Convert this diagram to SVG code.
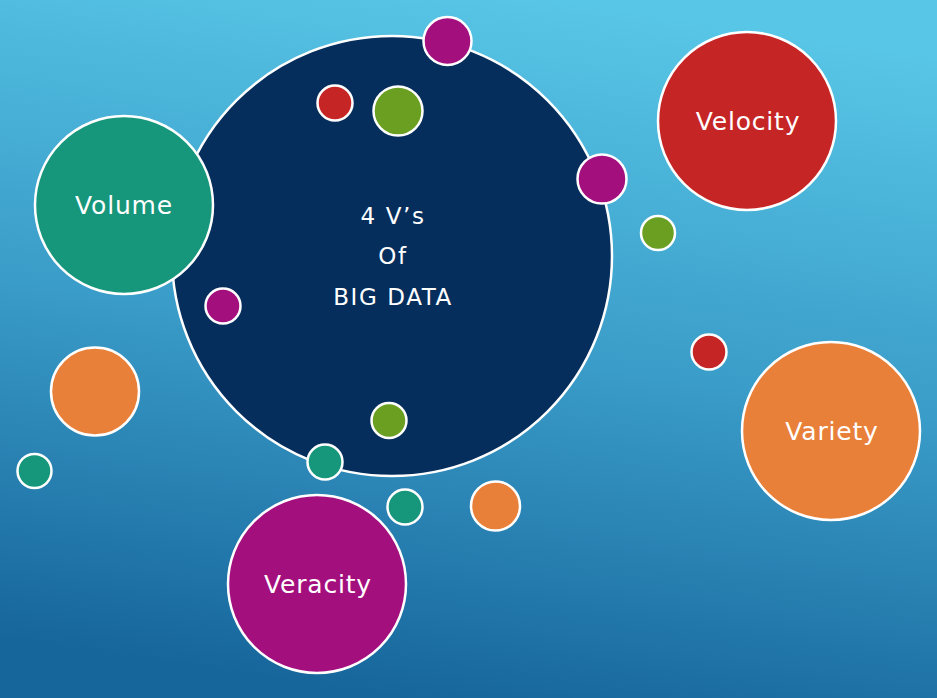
<svg xmlns="http://www.w3.org/2000/svg" width="937" height="698" viewBox="0 0 937 698">
<defs>
<linearGradient id="bg" x1="0.6" y1="0" x2="0.4" y2="1">
<stop offset="0" stop-color="#58c6e6"/>
<stop offset="0.5" stop-color="#3a9cc8"/>
<stop offset="1" stop-color="#16659b"/>
</linearGradient>
<style>
circle{stroke:#fff;stroke-width:2.5}
.navy{fill:#052e5d}.teal{fill:#16967a}.red{fill:#c62525}.green{fill:#6b9f21}.mag{fill:#a40f7e}.orange{fill:#e8803a}
text{fill:#fff;font-family:"DejaVu Sans","Liberation Sans",sans-serif;text-anchor:middle;dominant-baseline:central}
.big{font-size:25px;letter-spacing:0.8px}.mid{font-size:23px;letter-spacing:1.6px}
</style>
</defs>
<rect width="937" height="698" fill="url(#bg)"/>
<g id="core"><circle class="navy" cx="392" cy="256" r="220"/>
<text class="mid" x="393" y="216">4 V’s</text>
<text class="mid" x="393" y="256">Of</text>
<text class="mid" x="393" y="297">BIG DATA</text></g>
<g id="volume"><circle class="teal" cx="124" cy="205" r="89"/><text class="big" x="124" y="205">Volume</text></g>
<g id="velocity"><circle class="red" cx="747" cy="121" r="89"/><text class="big" x="748" y="121">Velocity</text></g>
<g id="variety"><circle class="orange" cx="831" cy="431" r="89"/><text class="big" x="832" y="431">Variety</text></g>
<g id="veracity"><circle class="mag" cx="317" cy="584" r="89"/><text class="big" x="318" y="584">Veracity</text></g>
<g id="dots">
<circle class="mag" cx="447.5" cy="41" r="24"/>
<circle class="red" cx="335" cy="103" r="17.5"/>
<circle class="green" cx="398" cy="111" r="24.5"/>
<circle class="mag" cx="602" cy="179" r="24.5"/>
<circle class="green" cx="658" cy="233" r="17"/>
<circle class="mag" cx="223" cy="306" r="17.5"/>
<circle class="red" cx="709" cy="352" r="17.5"/>
<circle class="orange" cx="95" cy="391.5" r="44"/>
<circle class="teal" cx="34.5" cy="471" r="17"/>
<circle class="green" cx="389" cy="420.5" r="17.5"/>
<circle class="teal" cx="325" cy="462" r="17.5"/>
<circle class="teal" cx="405" cy="507" r="17.5"/>
<circle class="orange" cx="495.5" cy="506" r="24.5"/>
</g>
</svg>
